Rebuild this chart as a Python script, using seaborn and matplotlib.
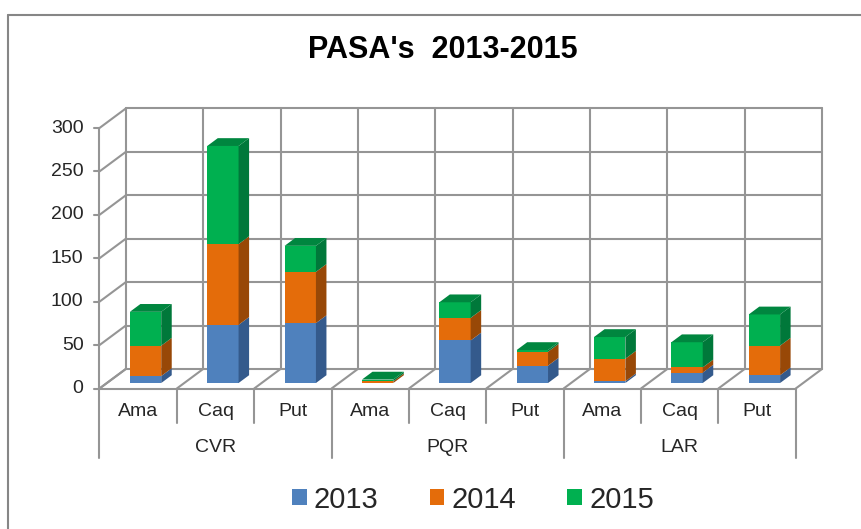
#!/usr/bin/env python3
"""
PASA's 2013-2015 - stacked columns with an Excel-like 3D look
"""

import numpy as np
import pandas as pd
import matplotlib
matplotlib.use('Agg')
import matplotlib.pyplot as plt
from matplotlib.patches import Patch
from matplotlib.lines import Line2D
import seaborn as sns

# data
groups = ['CVR', 'PQR', 'LAR']
subs = ['Ama', 'Caq', 'Put']
years = ['2013', '2014', '2015']
v2013 = [8, 67, 69, 0, 49, 20, 2, 12, 9]
v2014 = [35, 93, 59, 2, 26, 16, 26, 6, 34]
v2015 = [39, 113, 30, 2, 18, 2, 25, 29, 36]
y_ticks = [0, 50, 100, 150, 200, 250, 300]

# colours: front, side, top
front_cols = ['#4F81BD', '#E46C0A', '#00B050']
side_cols = ['#345A8C', '#984807', '#00783A']
top_cols = ['#4272AE', '#C65E08', '#00863F']
grid_col = '#959595'

# layout (pixels of the 862x529 picture)
W, H = 862, 529
PX0, PX_CAT = 99.5, 77.36      # left of floor, width of one category
PY0, PX_UNIT = 388.5, 0.8683   # front floor line, pixels per value unit
DXB, DYB = 0.34, 22.5          # depth of the box (category units, value units)
D_FRONT, D_BACK = 0.28, 0.68   # depth of bars inside the box
BAR_W = 0.405


def setup_axes(fig):
    """Axes over the whole figure, data units mapped to picture pixels."""
    ax = fig.add_axes([0, 0, 1, 1])
    ax.set_xlim(-PX0 / PX_CAT, (W - PX0) / PX_CAT)
    ax.set_ylim((PY0 - H) / PX_UNIT, PY0 / PX_UNIT)
    ax.axis('off')
    return ax


def draw_box(ax, n):
    """Back wall, left wall and floor grid."""
    lw = 1.5
    top = y_ticks[-1]
    for v in y_ticks:
        ax.plot([DXB, n + DXB], [v + DYB, v + DYB], color=grid_col, lw=lw, zorder=1)
        ax.plot([0, DXB], [v, v + DYB], color=grid_col, lw=lw, zorder=1)
        ax.plot([-5 / PX_CAT, 0], [v, v], color=grid_col, lw=lw, zorder=1)
        ax.text(-16 / PX_CAT, v, str(v), ha='right', va='center',
                fontsize=14, color='#262626')
    for k in range(n + 1):
        ax.plot([k + DXB, k + DXB], [DYB, top + DYB], color=grid_col, lw=lw, zorder=1)
        ax.plot([k, k + DXB], [0, DYB], color=grid_col, lw=lw, zorder=1)
    ax.plot([0, n], [0, 0], color=grid_col, lw=lw, zorder=1)
    ax.plot([0, 0], [0, top], color=grid_col, lw=lw, zorder=1)

    # category table under the floor
    low1 = (PY0 - 423) / PX_UNIT
    low2 = (PY0 - 457.5) / PX_UNIT
    for k in range(n + 1):
        bottom = low2 if k % len(subs) == 0 else low1
        ax.plot([k, k], [0, bottom], color=grid_col, lw=lw, zorder=1)
    for i in range(n):
        ax.text(i + 0.5, (PY0 - 411) / PX_UNIT, subs[i % len(subs)],
                ha='center', va='center', fontsize=14, color='#262626')
    for g, name in enumerate(groups):
        ax.text(g * len(subs) + len(subs) / 2, (PY0 - 447) / PX_UNIT, name,
                ha='center', va='center', fontsize=14, color='#262626')


def draw_bars(ax, df):
    """Front faces with seaborn, side and top faces as polygons."""
    series = [df['2013'].values, df['2014'].values, df['2015'].values]
    cum = np.cumsum(series, axis=0)
    v0 = D_FRONT * DYB
    df = df.copy()
    df['pos'] = np.arange(len(df)) + 0.5 + D_FRONT * DXB

    # stacked front faces: draw totals first, lower segments on top
    for s in reversed(range(len(series))):
        df['h'] = cum[s]
        sns.barplot(data=df, x='pos', y='h', native_scale=True, width=BAR_W,
                    color=front_cols[s], saturation=1, errorbar=None,
                    bottom=v0, linewidth=0, ax=ax, zorder=3)

    ddx = (D_BACK - D_FRONT) * DXB
    ddy = (D_BACK - D_FRONT) * DYB
    for i, u in enumerate(df['pos']):
        ul, ur = u - BAR_W / 2, u + BAR_W / 2
        base = v0
        top_s = None
        for s in range(len(series)):
            h = series[s][i]
            if h <= 0:
                continue
            b, t = base, base + h
            ax.fill([ur, ur + ddx, ur + ddx, ur], [b, b + ddy, t + ddy, t],
                    color=side_cols[s], lw=0, zorder=3)
            base = t
            top_s = s
        if top_s is not None:
            ax.fill([ul, ur, ur + ddx, ul + ddx], [base, base, base + ddy, base + ddy],
                    color=top_cols[top_s], lw=0, zorder=3)


def main():
    sns.set_theme(style='white')
    plt.rcParams['font.family'] = ['Liberation Sans', 'DejaVu Sans']

    df = pd.DataFrame({
        'group': np.repeat(groups, len(subs)),
        'sub': subs * len(groups),
        '2013': v2013, '2014': v2014, '2015': v2015,
    })

    fig = plt.figure(figsize=(W / 100, H / 100), dpi=100)
    ax = setup_axes(fig)
    draw_box(ax, len(df))
    draw_bars(ax, df)
    ax.set_xlim(-PX0 / PX_CAT, (W - PX0) / PX_CAT)
    ax.set_ylim((PY0 - H) / PX_UNIT, PY0 / PX_UNIT)
    ax.axis('off')

    # chart border (cut at right and bottom as in the picture)
    fig.add_artist(Line2D([8.5 / W, 8.5 / W], [0, 1 - 15 / H], color='#868686', lw=1.5))
    fig.add_artist(Line2D([8.5 / W, 1], [1 - 15 / H, 1 - 15 / H], color='#868686', lw=1.5))

    fig.text(442.5 / W, 1 - 50 / H, "PASA's  2013-2015", ha='center', va='center',
             fontsize=22, fontweight='bold', color='black')

    handles = [Patch(facecolor=c, edgecolor='none') for c in front_cols]
    fig.legend(handles, years, loc='center', bbox_to_anchor=(473 / W, 1 - 499.5 / H),
               ncol=3, frameon=False, fontsize=21, handlelength=0.5, handleheight=0.5,
               handletextpad=0.25, columnspacing=1.75)

    fig.savefig('out.png', dpi=100)
    plt.close(fig)
    return 0


if __name__ == "__main__":
    main()
